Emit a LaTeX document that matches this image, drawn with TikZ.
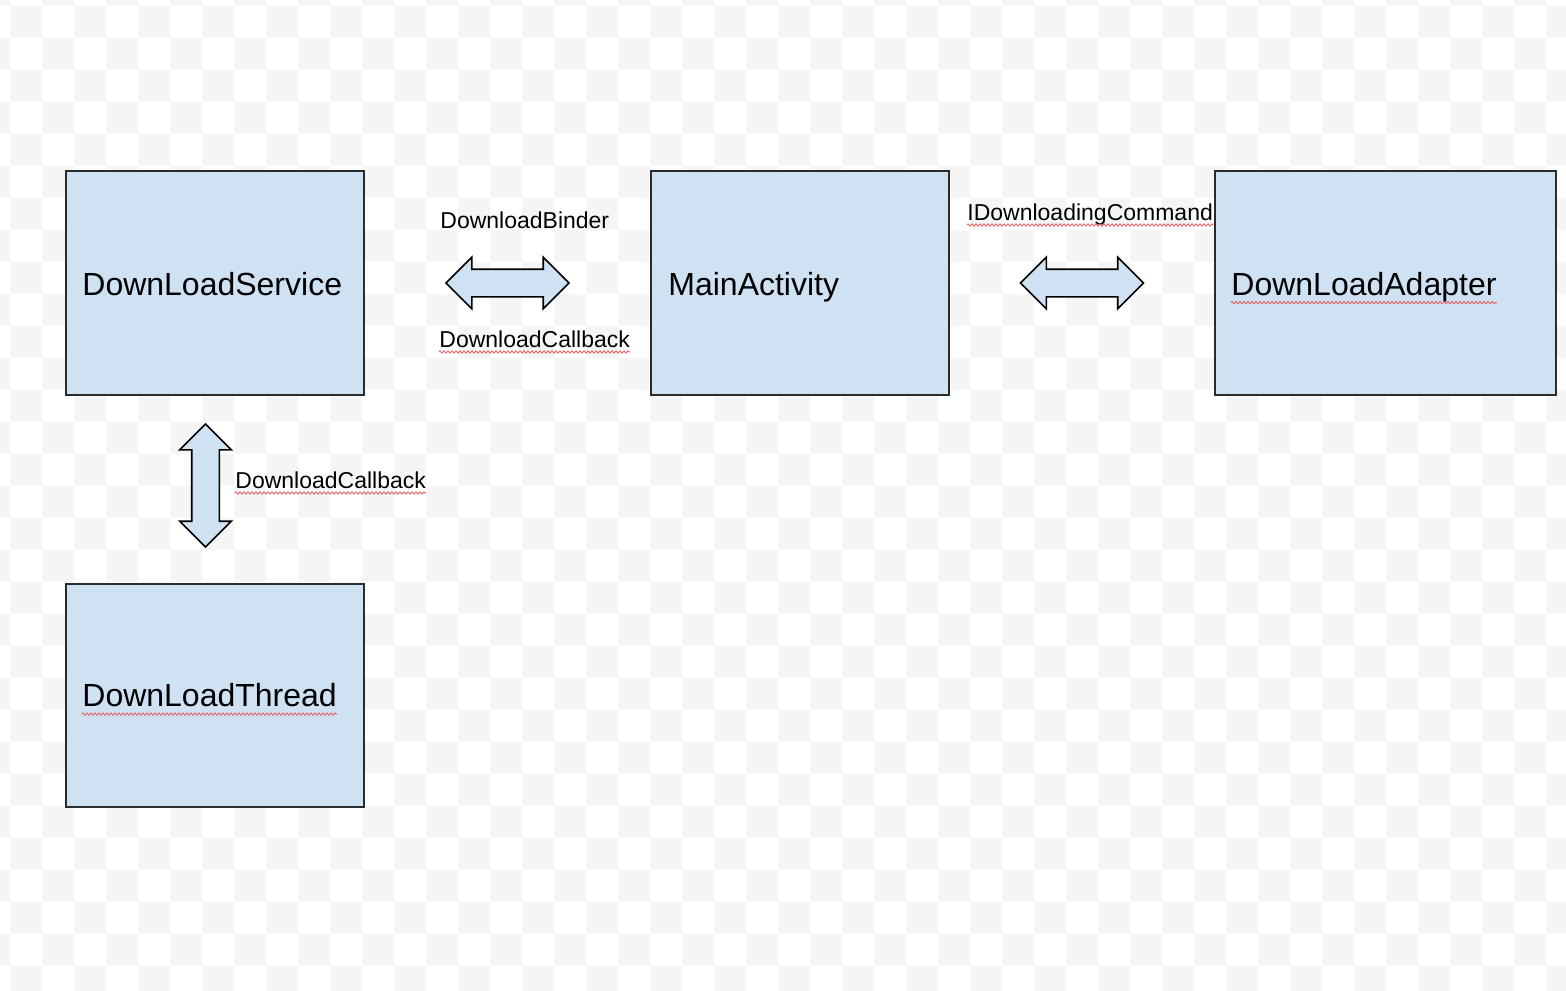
\documentclass[tikz,border=0pt]{standalone}
\usepackage{fontspec}
\setmainfont{Liberation Sans}
\usetikzlibrary{shapes.arrows, positioning, calc, decorations.pathmorphing}
\definecolor{boxfill}{HTML}{CFE2F3}
\definecolor{boxline}{HTML}{2B2B2B}
\definecolor{checker}{HTML}{F5F5F5}
\definecolor{spellred}{HTML}{E8595A}

\begin{document}
\begin{tikzpicture}[
  x=0.5pt, y=-0.5pt,
  box/.style={draw=boxline, line width=1pt, fill=boxfill, minimum width=#1, minimum height=112pt, inner sep=0pt},
  word/.style={anchor=base west, inner sep=0pt, font=\fontsize{16}{19}\selectfont},
  tag/.style={anchor=base west, inner sep=0pt, font=\fontsize{11.5}{14}\selectfont},
  link/.style={shape=double arrow, draw=black, line width=0.8pt, fill=boxfill, inner xsep=0pt, inner ysep=6.5pt,
    minimum height=61.5pt, double arrow head extend=6pt, double arrow tip angle=90},
  spell/.style={draw=spellred, line width=0.4pt, decorate, decoration={zigzag, segment length=2pt, amplitude=0.6pt}},
]
  % background
  \useasboundingbox (0,0) rectangle (1566,990);
  \fill[white] (0,0) rectangle (1566,990);
  \begin{scope}
    \clip (0,0) rectangle (1566,990);
    \foreach \x in {-54,10,...,1600} {
      \foreach \y in {-58,6,...,1000} {
        \fill[checker] (\x,\y) rectangle +(32,32);
        \fill[checker] (\x+32,\y+32) rectangle +(32,32);
      }
    }
  \end{scope}

  % components
  \node[box=149pt] (svc) at (215,283) {};
  \node[box=149pt] (main) at (800,283) {};
  \node[box=170.5pt] (adapter) at (1385.5,283) {};
  \node[box=149pt, minimum height=111.5pt] (thread) at (215,695.5) {};

  \node[word] (svctxt) at ([xshift=8.5pt, yshift=-6pt]svc.west) {DownLoadService};
  \node[word] (maintxt) at ([xshift=9pt, yshift=-6pt]main.west) {MainActivity};
  \node[word] (adaptertxt) at ([xshift=8.5pt, yshift=-6pt]adapter.west) {DownLoadAdapter};
  \node[word] (threadtxt) at ([xshift=8.5pt, yshift=-5.5pt]thread.west) {DownLoadThread};

  % links
  \node[link] (binder) at ($(svc.east)!0.5!(main.west)$) {};
  \node[link] (command) at ($(main.east)!0.5!(adapter.west)$) {};
  \node[link, rotate=90] (callback) at ([xshift=-4.75pt, yshift=2pt]$(svc.south)!0.5!(thread.north)$) {};

  \node[tag] (bindertxt) at (440,228) {DownloadBinder};
  \node[tag] (backtxt) at (439,347) {DownloadCallback};
  \node[tag] (cmdtxt) at (967,220) {IDownloadingCommand};
  \node[tag] (threadback) at (235,488) {DownloadCallback};

  % spell marks
  \foreach \lbl in {backtxt, cmdtxt, threadback}
    \draw[spell] ([yshift=-2.5pt]\lbl.base west) -- ([yshift=-2.5pt]\lbl.base east);
  \foreach \lbl in {adaptertxt, threadtxt}
    \draw[spell] ([yshift=-3.8pt]\lbl.base west) -- ([yshift=-3.8pt]\lbl.base east);
\end{tikzpicture}
\end{document}
